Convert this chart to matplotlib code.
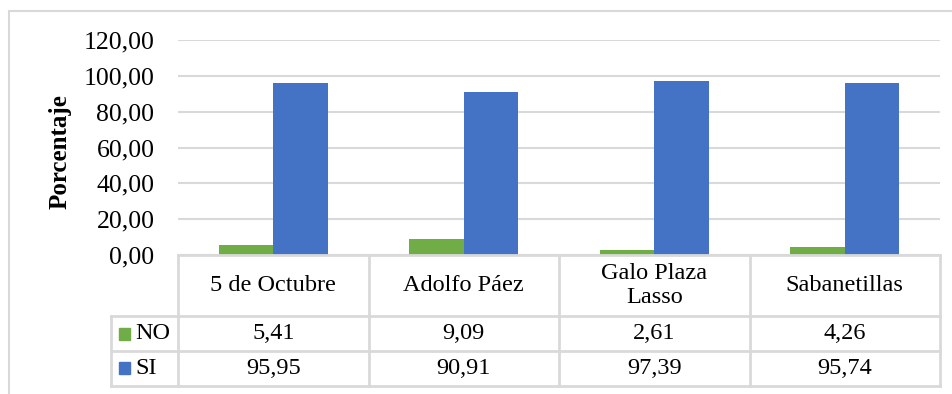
import matplotlib
matplotlib.use('Agg')
import matplotlib.pyplot as plt
import numpy as np
from matplotlib.patches import Rectangle
from matplotlib.lines import Line2D
import matplotlib.transforms as mtransforms

categories = ["5 de Octubre", "Adolfo Páez", "Galo Plaza\nLasso", "Sabanetillas"]
series_names = ["NO", "SI"]
no_values = [5.41, 9.09, 2.61, 4.26]
si_values = [95.95, 90.91, 97.39, 95.74]
yticks = [0, 20, 40, 60, 80, 100, 120]

GREEN = "#70AD47"
BLUE = "#4472C4"
GRID = "#D9D9D9"
FS = 17.5

plt.rcParams['font.family'] = ['Liberation Serif', 'DejaVu Serif']

W, H = 952, 394
fig = plt.figure(figsize=(W / 100, H / 100), dpi=100)
ax = fig.add_axes([178 / W, 1 - 255 / H, (940 - 178) / W, (255 - 40) / H])

x = np.arange(len(categories))
bw = 0.286
ax.bar(x - bw / 2, no_values, bw, color=GREEN, zorder=3)
ax.bar(x + bw / 2, si_values, bw, color=BLUE, zorder=3)

ax.set_xlim(-0.5, len(categories) - 0.5)
ax.set_ylim(0, 120)
ax.set_yticks(yticks)
ax.set_yticklabels([f"{v:.2f}".replace(".", ",") for v in yticks], fontsize=FS + 1)
ax.set_xticks([])
ax.tick_params(axis='y', length=0, pad=17)
ax.grid(axis='y', color=GRID, linewidth=1.5, zorder=0)
for s in ax.spines.values():
    s.set_visible(False)

ax.text(-0.155, 0.48, "Porcentaje", transform=ax.transAxes, rotation=90,
        ha='center', va='center', fontsize=FS + 0.5, fontweight='bold')

# data table under the plot: x in data units, y in axes fraction
trans = mtransforms.blended_transform_factory(ax.transData, ax.transAxes)
row_edges = [0, -0.284, -0.4465, -0.609]
key_left = -0.852
lkw = dict(color=GRID, linewidth=2, transform=trans, clip_on=False, zorder=4)

ax.add_line(Line2D([-0.5, len(categories) - 0.5], [0, 0], **lkw))
for y in row_edges[1:]:
    ax.add_line(Line2D([key_left, len(categories) - 0.5], [y, y], **lkw))
for xe in np.arange(len(categories) + 1) - 0.5:
    ax.add_line(Line2D([xe, xe], [0, row_edges[-1]], **lkw))
ax.add_line(Line2D([key_left, key_left], [row_edges[1], row_edges[-1]], **lkw))

hdr_y = (row_edges[0] + row_edges[1]) / 2
for xi, cat in zip(x, categories):
    ax.text(xi, hdr_y, cat, transform=trans, ha='center', va='center',
            fontsize=FS, linespacing=1.2, clip_on=False)

rows = [(series_names[0], no_values, GREEN), (series_names[1], si_values, BLUE)]
for i, (name, vals, col) in enumerate(rows):
    yc = (row_edges[i + 1] + row_edges[i + 2]) / 2
    for xi, v in zip(x, vals):
        ax.text(xi, yc, f"{v:.2f}".replace(".", ","), transform=trans,
                ha='center', va='center', fontsize=FS, clip_on=False)
    ax.text(key_left + 0.13, yc, name, transform=trans, ha='left',
            va='center', fontsize=FS, clip_on=False)
    kx = key_left + 0.04
    key = Rectangle((kx, yc - 0.028), 0.062, 0.056, transform=trans,
                    color=col, clip_on=False)
    ax.add_patch(key)

# chart area border
fig.add_artist(Rectangle((9 / W, -0.2), 1.2, 1 - 11 / H + 0.2,
                         transform=fig.transFigure, fill=False,
                         edgecolor=GRID, linewidth=1.5))

fig.savefig("out.png", dpi=100)
